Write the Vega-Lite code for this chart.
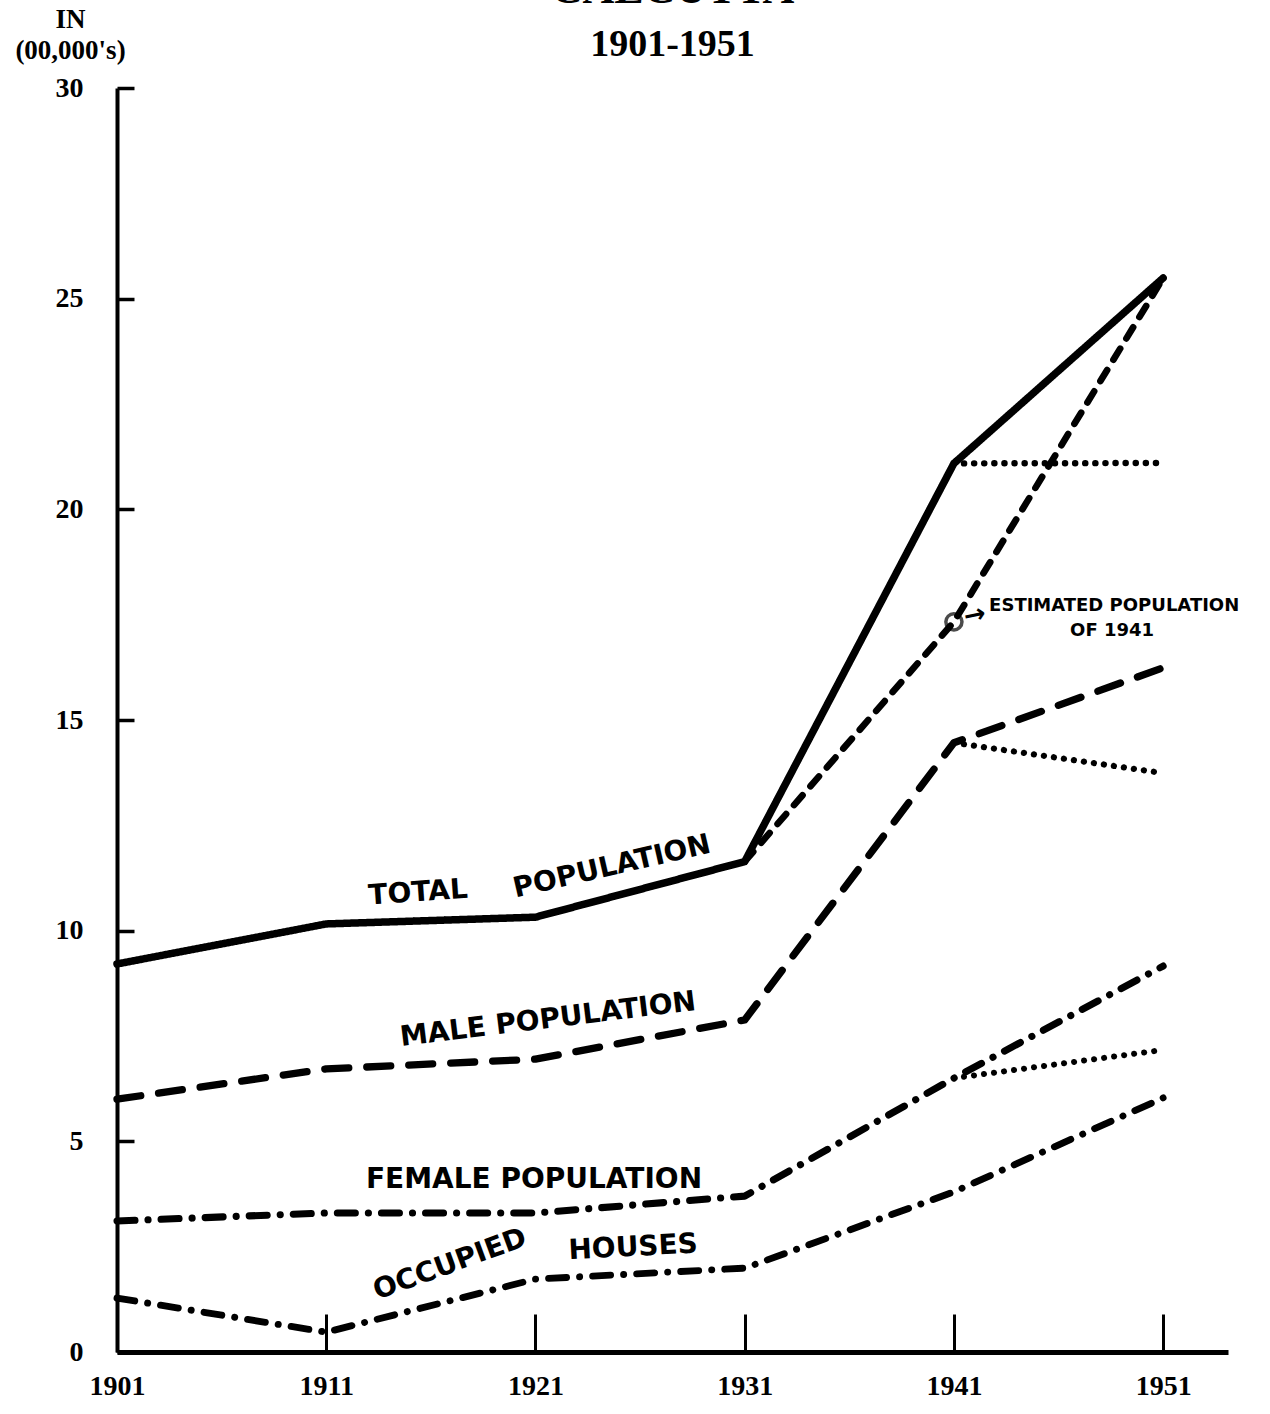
{
  "$schema": "https://vega.github.io/schema/vega-lite/v6.json",
  "width": 1111,
  "height": 1264,
  "autosize": {"type": "none"},
  "padding": {"left": 117, "top": 88, "right": 42, "bottom": 62},
  "background": "white",
  "title": {
    "text": "CALCUTTA",
    "subtitle": "1901-1951",
    "frame": "group",
    "font": "Liberation Serif",
    "fontSize": 44,
    "fontWeight": "bold",
    "subtitleFont": "Liberation Serif",
    "subtitleFontSize": 38,
    "subtitleFontWeight": "bold",
    "subtitleColor": "black",
    "subtitlePadding": 14,
    "color": "black",
    "anchor": "middle",
    "offset": 22,
    "dy": 81
  },
  "config": {
    "view": {"stroke": null},
    "axis": {"grid": false}
  },
  "datasets": {
    "lines": [
      {"series": "Total", "year": 1901, "value": 9.21},
      {"series": "Total", "year": 1911, "value": 10.16},
      {"series": "Total", "year": 1921, "value": 10.32},
      {"series": "Total", "year": 1931, "value": 11.64},
      {"series": "Total", "year": 1941, "value": 21.09},
      {"series": "Total", "year": 1951, "value": 25.49},
      {"series": "Male", "year": 1901, "value": 6.0},
      {"series": "Male", "year": 1911, "value": 6.72},
      {"series": "Male", "year": 1921, "value": 6.95},
      {"series": "Male", "year": 1931, "value": 7.88},
      {"series": "Male", "year": 1941, "value": 14.46},
      {"series": "Male", "year": 1951, "value": 16.24},
      {"series": "Female", "year": 1901, "value": 3.11},
      {"series": "Female", "year": 1911, "value": 3.3},
      {"series": "Female", "year": 1921, "value": 3.3},
      {"series": "Female", "year": 1931, "value": 3.7},
      {"series": "Female", "year": 1941, "value": 6.5},
      {"series": "Female", "year": 1951, "value": 9.16},
      {"series": "Houses", "year": 1901, "value": 1.28},
      {"series": "Houses", "year": 1911, "value": 0.47},
      {"series": "Houses", "year": 1921, "value": 1.73},
      {"series": "Houses", "year": 1931, "value": 1.99},
      {"series": "Houses", "year": 1941, "value": 3.8},
      {"series": "Houses", "year": 1951, "value": 6.03},
      {"series": "Estimated", "year": 1931, "value": 11.64},
      {"series": "Estimated", "year": 1941, "value": 17.33},
      {"series": "Estimated", "year": 1951, "value": 25.49},
      {"series": "TotalTrend", "year": 1941, "value": 21.09},
      {"series": "TotalTrend", "year": 1951, "value": 21.1},
      {"series": "MaleTrend", "year": 1941, "value": 14.46},
      {"series": "MaleTrend", "year": 1951, "value": 13.74},
      {"series": "FemaleTrend", "year": 1941, "value": 6.5},
      {"series": "FemaleTrend", "year": 1951, "value": 7.17}
    ],
    "labels": [
      {"label": "TOTAL", "year": 1915.39, "value": 10.89, "kind": "a"},
      {"label": "POPULATION", "year": 1924.66, "value": 11.51, "kind": "b"},
      {"label": "MALE POPULATION", "year": 1921.6, "value": 7.88, "kind": "c"},
      {"label": "FEMALE POPULATION", "year": 1920.93, "value": 4.08, "kind": "d"},
      {"label": "OCCUPIED", "year": 1916.92, "value": 2.07, "kind": "e"},
      {"label": "HOUSES", "year": 1925.67, "value": 2.47, "kind": "f"}
    ],
    "notes": [
      {"label": "ESTIMATED POPULATION", "year": 1948.66, "value": 17.71},
      {"label": "OF 1941", "year": 1948.56, "value": 17.11}
    ],
    "arrow": [{"label": "→", "year": 1942.0, "value": 17.49}],
    "marker": [{"year": 1941, "value": 17.33}]
  },
  "layer": [
    {
      "data": {"name": "lines"},
      "mark": {"type": "line", "color": "black", "strokeCap": "round", "strokeJoin": "round"},
      "encoding": {
        "x": {
          "field": "year", "type": "quantitative",
          "scale": {"domain": [1901, 1954.1], "nice": false, "zero": false},
          "axis": {
            "values": [1901, 1911, 1921, 1931, 1941, 1951],
            "format": "d",
            "title": null,
            "domainColor": "black",
            "domainWidth": 5,
            "tickColor": "black",
            "tickWidth": 3,
            "tickSize": -38,
            "labelPadding": 58,
            "labelBaseline": "top",
            "labelFont": "Liberation Serif",
            "labelFontWeight": "bold",
            "labelFontSize": 28,
            "labelColor": "black",
            "labelFlush": false
          }
        },
        "y": {
          "field": "value", "type": "quantitative",
          "scale": {"domain": [0, 30], "nice": false},
          "axis": {
            "values": [0, 5, 10, 15, 20, 25, 30],
            "title": ["IN", "(00,000's)"],
            "titleAngle": 0,
            "titleAlign": "center",
            "titleBaseline": "top",
            "titleX": -47,
            "titleY": -82,
            "titleFont": "Liberation Serif",
            "titleFontWeight": "bold",
            "titleFontSize": 27,
            "titleLineHeight": 31,
            "titleColor": "black",
            "domainColor": "black",
            "domainWidth": 4,
            "tickColor": "black",
            "tickWidth": 3.5,
            "tickSize": -17,
            "labelPadding": 51,
            "labelFont": "Liberation Serif",
            "labelFontWeight": "bold",
            "labelFontSize": 28,
            "labelColor": "black",
            "labelFlush": false
          }
        },
        "detail": {"field": "series"},
        "strokeDash": {
          "field": "series", "type": "nominal", "legend": null,
          "scale": {
            "domain": ["Total", "Male", "Female", "Houses", "Estimated", "TotalTrend", "MaleTrend", "FemaleTrend"],
            "range": [[1, 0], [24, 18], [18, 13, 0.1, 13], [18, 13, 0.1, 13], [13, 12], [0.1, 10], [0.1, 10], [0.1, 10]]
          }
        },
        "strokeWidth": {
          "field": "series", "type": "nominal", "legend": null,
          "scale": {
            "domain": ["Total", "Male", "Female", "Houses", "Estimated", "TotalTrend", "MaleTrend", "FemaleTrend"],
            "range": [7.5, 6, 6, 6, 3, 4.5, 4.5, 4.5]
          }
        }
      }
    },
    {
      "data": {"name": "marker"},
      "mark": {"type": "point", "filled": false, "color": "black", "strokeWidth": 3.5, "size": 260, "shape": "circle"},
      "encoding": {
        "x": {"field": "year", "type": "quantitative"},
        "y": {"field": "value", "type": "quantitative"}
      }
    },
    {
      "data": {"name": "labels"},
      "transform": [{"filter": "datum.kind == 'a'"}],
      "mark": {"type": "text", "font": "DejaVu Sans", "fontWeight": "bold", "fontSize": 28, "angle": -4, "align": "center", "baseline": "middle", "color": "black"},
      "encoding": {
        "x": {"field": "year", "type": "quantitative"},
        "y": {"field": "value", "type": "quantitative"},
        "text": {"field": "label"}
      }
    },
    {
      "data": {"name": "labels"},
      "transform": [{"filter": "datum.kind == 'b'"}],
      "mark": {"type": "text", "font": "DejaVu Sans", "fontWeight": "bold", "fontSize": 28, "angle": -13, "align": "center", "baseline": "middle", "color": "black"},
      "encoding": {
        "x": {"field": "year", "type": "quantitative"},
        "y": {"field": "value", "type": "quantitative"},
        "text": {"field": "label"}
      }
    },
    {
      "data": {"name": "labels"},
      "transform": [{"filter": "datum.kind == 'c'"}],
      "mark": {"type": "text", "font": "DejaVu Sans", "fontWeight": "bold", "fontSize": 28, "angle": -7, "align": "center", "baseline": "middle", "color": "black"},
      "encoding": {
        "x": {"field": "year", "type": "quantitative"},
        "y": {"field": "value", "type": "quantitative"},
        "text": {"field": "label"}
      }
    },
    {
      "data": {"name": "labels"},
      "transform": [{"filter": "datum.kind == 'd'"}],
      "mark": {"type": "text", "font": "DejaVu Sans", "fontWeight": "bold", "fontSize": 28, "angle": 0, "align": "center", "baseline": "middle", "color": "black"},
      "encoding": {
        "x": {"field": "year", "type": "quantitative"},
        "y": {"field": "value", "type": "quantitative"},
        "text": {"field": "label"}
      }
    },
    {
      "data": {"name": "labels"},
      "transform": [{"filter": "datum.kind == 'e'"}],
      "mark": {"type": "text", "font": "DejaVu Sans", "fontWeight": "bold", "fontSize": 28, "angle": -20, "align": "center", "baseline": "middle", "color": "black"},
      "encoding": {
        "x": {"field": "year", "type": "quantitative"},
        "y": {"field": "value", "type": "quantitative"},
        "text": {"field": "label"}
      }
    },
    {
      "data": {"name": "labels"},
      "transform": [{"filter": "datum.kind == 'f'"}],
      "mark": {"type": "text", "font": "DejaVu Sans", "fontWeight": "bold", "fontSize": 28, "angle": -3, "align": "center", "baseline": "middle", "color": "black"},
      "encoding": {
        "x": {"field": "year", "type": "quantitative"},
        "y": {"field": "value", "type": "quantitative"},
        "text": {"field": "label"}
      }
    },
    {
      "data": {"name": "notes"},
      "mark": {"type": "text", "font": "DejaVu Sans", "fontWeight": "bold", "fontSize": 18, "align": "center", "baseline": "middle", "color": "black"},
      "encoding": {
        "x": {"field": "year", "type": "quantitative"},
        "y": {"field": "value", "type": "quantitative"},
        "text": {"field": "label"}
      }
    },
    {
      "data": {"name": "arrow"},
      "mark": {"type": "text", "font": "DejaVu Sans", "fontWeight": "bold", "fontSize": 26, "angle": -12, "align": "center", "baseline": "middle", "color": "black"},
      "encoding": {
        "x": {"field": "year", "type": "quantitative"},
        "y": {"field": "value", "type": "quantitative"},
        "text": {"field": "label"}
      }
    }
  ]
}
